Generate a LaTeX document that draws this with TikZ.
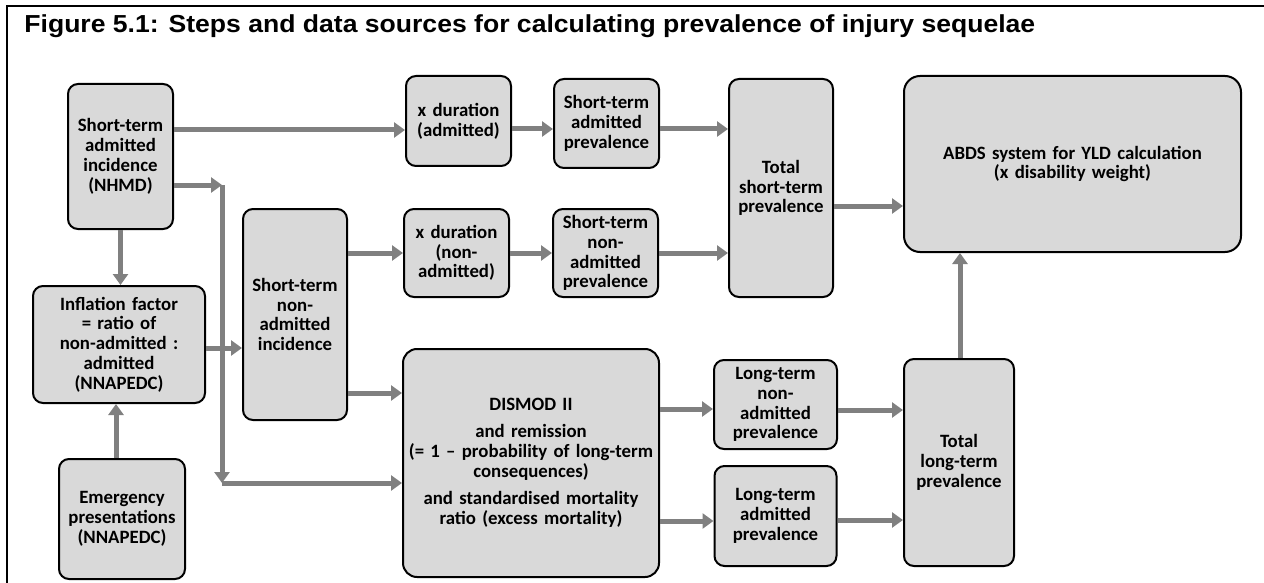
\documentclass[tikz,border=0pt]{standalone}
\usepackage{fontspec}
\usepackage{tikz}
\usetikzlibrary{positioning}
\usetikzlibrary{arrows.meta}
\usepackage{xcolor}
\newfontfamily\titlefont[FakeStretch=1.08]{Liberation Sans}
\newfontfamily\boxfont{Carlito}
\definecolor{boxgray}{HTML}{D9D9D9}
\definecolor{flowgray}{HTML}{808080}
\tikzset{
  stage/.style={rectangle, draw=black, line width=1pt, fill=boxgray, rounded corners=5pt, align=center,
    inner xsep=2pt, inner ysep=0pt, font=\boxfont\bfseries\fontsize{9.4}{9.9}\selectfont},
  flow/.style={draw=flowgray, line width=2.5pt, -{Triangle[length=5.5pt,width=7.5pt]}},
}

\begin{document}
\begin{tikzpicture}

    \useasboundingbox (0,0) rectangle (632pt,-291.5pt);

    % Frame and title
    \draw[line width=1pt] (632pt,-3pt) -- (3.5pt,-3pt) -- (3.5pt,-291.5pt);
    \node[anchor=base west, inner sep=0pt, font=\titlefont\bfseries\fontsize{12.3}{14}\selectfont] (title) at (12pt,-16.5pt)
      {Figure 5.1: Steps and data sources for calculating prevalence of injury sequelae};

    % Define nodes
    \node[stage, text width=48.5pt, minimum height=72.5pt] (nhmd) at (60.25pt,-78.25pt) {Short-term\\admitted\\incidence\\(NHMD)};
    \node[stage, text width=82pt, minimum height=58.5pt, below=27.5pt of nhmd, xshift=-0.75pt] (infl) {Inflation factor\\= ratio of\\non-admitted :\\admitted\\(NNAPEDC)};
    \node[stage, text width=59pt, minimum height=60pt, below=27pt of infl, xshift=1.5pt] (emerg) {Emergency\\presentations\\(NNAPEDC)};
    \node[stage, text width=48pt, minimum height=105.5pt, right=18pt of infl, yshift=15pt] (stnai) {Short-term\\non-\\admitted\\incidence};
    \node[stage, text width=48.5pt, minimum height=45pt, right=115.5pt of nhmd, yshift=17.75pt] (duradm) {x duration\\(admitted)};
    \node[stage, text width=48.5pt, minimum height=44.5pt, right=20.5pt of duradm, yshift=-1.25pt] (stap) {Short-term\\admitted\\prevalence};
    \node[stage, text width=48pt, minimum height=109pt, right=34pt of stap, yshift=-32.25pt] (totst) {Total\\short-term\\prevalence};
    \node[stage, text width=48.5pt, minimum height=44pt, right=27.5pt of stnai, yshift=30.75pt] (durnon) {x duration\\(non-\\admitted)};
    \node[stage, text width=48.5pt, minimum height=44pt, right=21pt of durnon] (stnap) {Short-term\\non-\\admitted\\prevalence};
    \node[stage, rounded corners=7pt, text width=124pt, minimum height=114pt, right=27pt of stnai, yshift=-74.25pt] (dismod)
      {DISMOD II\\[3.5pt]and remission\\(= 1 \textendash{} probability of long-term\\consequences)\\[4pt]and standardised mortality\\ratio (excess mortality)};
    \node[stage, text width=57.5pt, minimum height=44.5pt, right=26.5pt of dismod, yshift=29.25pt] (ltnap) {Long-term\\non-\\admitted\\prevalence};
    \node[stage, text width=57pt, minimum height=50pt, below=7.5pt of ltnap] (ltap) {Long-term\\admitted\\prevalence};
    \node[stage, text width=51pt, minimum height=103.5pt, right=32.5pt of ltnap, yshift=-29pt] (totlt) {Total\\long-term\\prevalence};
    \node[stage, rounded corners=8pt, text width=164.5pt, minimum height=88pt, right=34.5pt of totst, yshift=12pt] (abds)
      {ABDS system for YLD calculation\\(x disability weight)};

    \coordinate (bend1) at (111pt,-92.5pt);
    \coordinate (bend2) at (111pt,-241.5pt);

    % Connect the nodes
    \draw[flow] (nhmd.east |- 0,-65pt) -- (duradm.west |- 0,-65pt);
    \draw[flow] (nhmd.east |- bend1) -- (bend1);
    \draw[flow] (bend1) -- (bend2);
    \draw[flow] (bend2) -- (bend2 -| dismod.west);
    \draw[flow] (nhmd.south) -- (nhmd.south |- infl.north);
    \draw[flow] (emerg.north -| 58pt,0) -- (infl.south -| 58pt,0);
    \draw[flow] (infl.east |- 0,-174pt) -- (stnai.west |- 0,-174pt);
    \draw[flow] (stnai.east |- durnon.west) -- (durnon.west);
    \draw[flow] (stnai.east |- 0,-196.5pt) -- (dismod.west |- 0,-196.5pt);
    \draw[flow] (duradm.east |- 0,-64.5pt) -- (stap.west |- 0,-64.5pt);
    \draw[flow] (stap.east |- 0,-64.5pt) -- (totst.west |- 0,-64.5pt);
    \draw[flow] (durnon.east) -- (stnap.west);
    \draw[flow] (stnap.east) -- (stnap.east -| totst.west);
    \draw[flow] (totst.east |- 0,-103pt) -- (abds.west |- 0,-103pt);
    \draw[flow] (dismod.east |- 0,-204.5pt) -- (ltnap.west |- 0,-204.5pt);
    \draw[flow] (dismod.east |- 0,-260.5pt) -- (ltap.west |- 0,-260.5pt);
    \draw[flow] (ltnap.east |- 0,-205pt) -- (totlt.west |- 0,-205pt);
    \draw[flow] (ltap.east |- 0,-260pt) -- (totlt.west |- 0,-260pt);
    \draw[flow] (totlt.north -| 480pt,0) -- (abds.south -| 480pt,0);

\end{tikzpicture}
\end{document}
